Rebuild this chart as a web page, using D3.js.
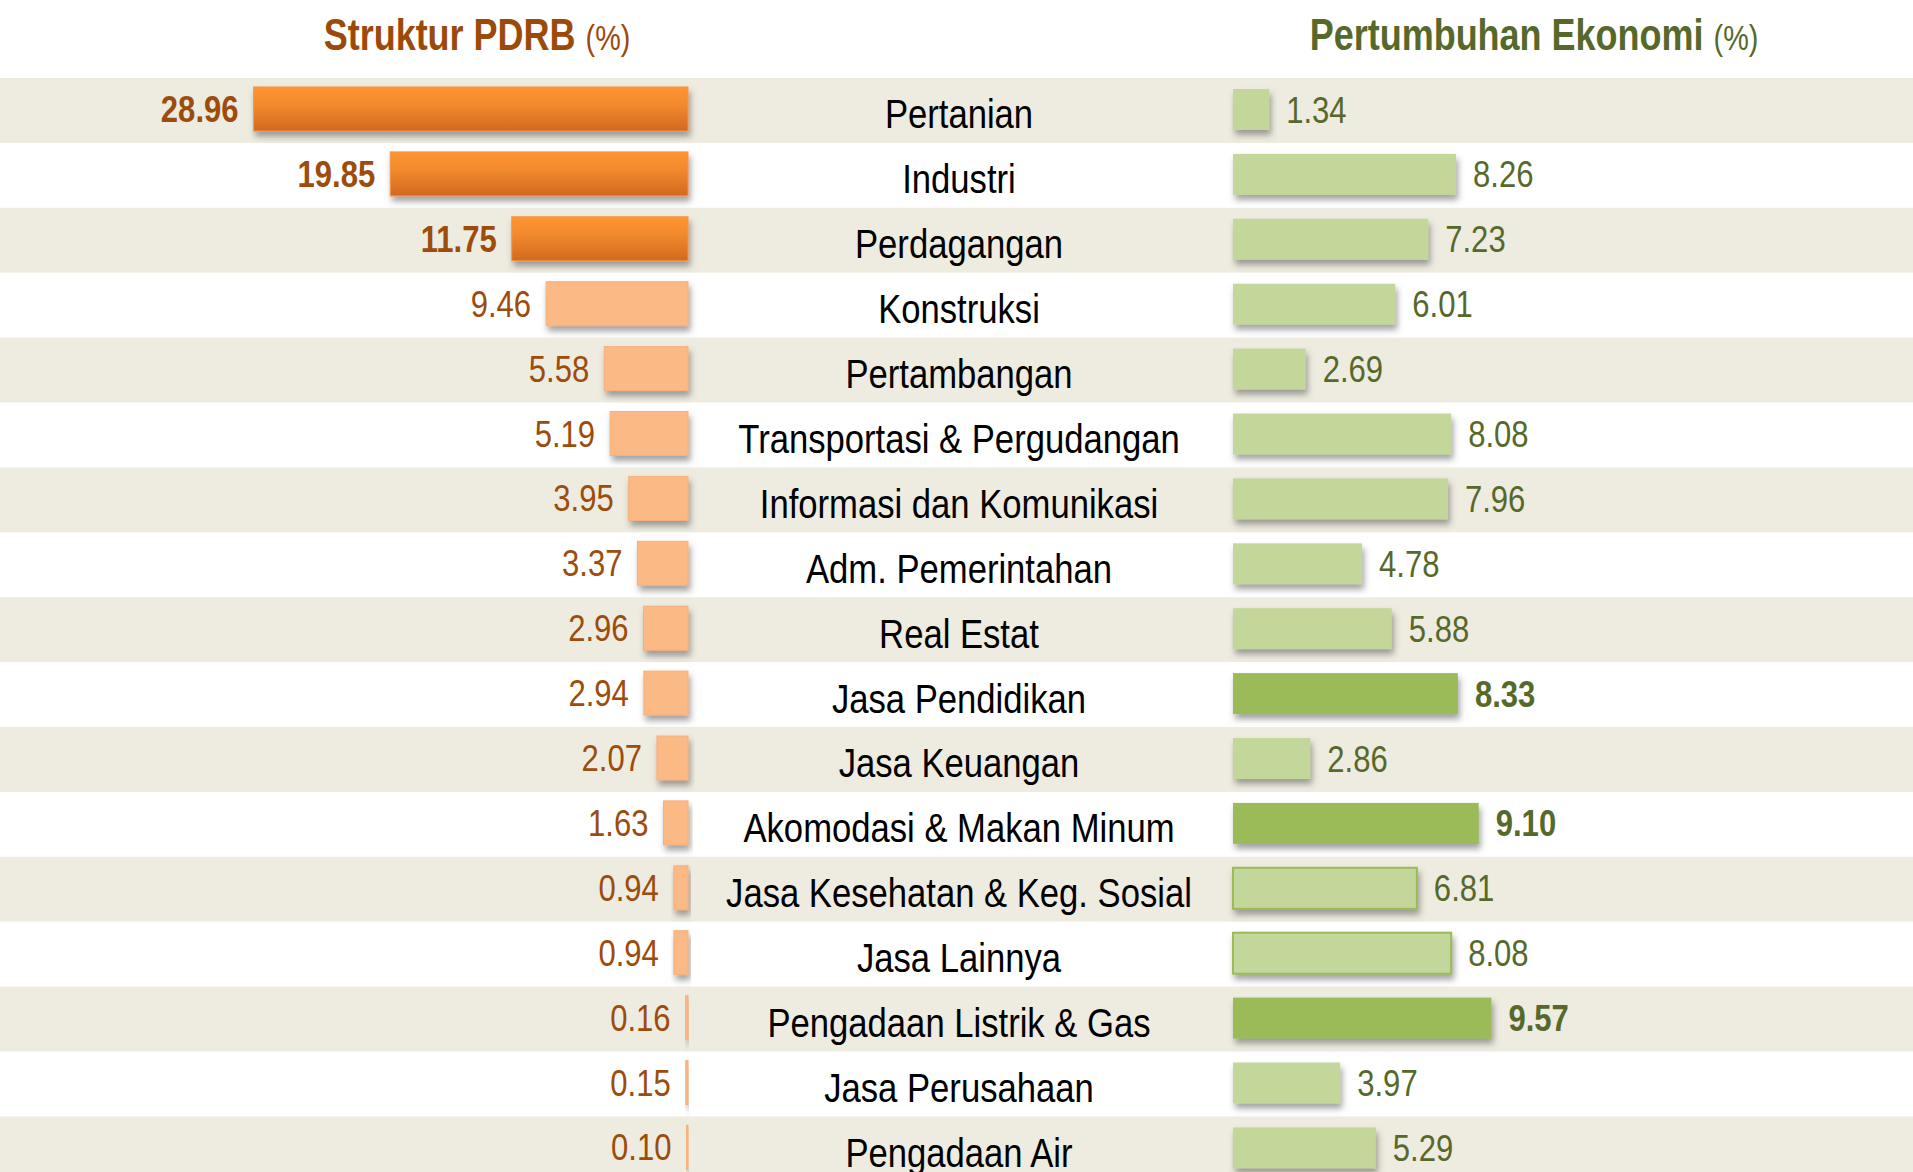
<!DOCTYPE html>
<html>
<head>
<meta charset="utf-8">
<script src="https://cdn.jsdelivr.net/npm/d3@7"></script>
<style>
  html, body { margin: 0; padding: 0; background: #fff; }
  svg { display: block; }
  text { font-family: "Liberation Sans", Arial, sans-serif; }
</style>
</head>
<body>
<svg id="chart" width="1913" height="1172"></svg>
<script>
const categories = ["Pertanian","Industri","Perdagangan","Konstruksi","Pertambangan","Transportasi & Pergudangan","Informasi dan Komunikasi","Adm. Pemerintahan","Real Estat","Jasa Pendidikan","Jasa Keuangan","Akomodasi & Makan Minum","Jasa Kesehatan & Keg. Sosial","Jasa Lainnya","Pengadaan Listrik & Gas","Jasa Perusahaan","Pengadaan Air"];
const struktur = [28.96,19.85,11.75,9.46,5.58,5.19,3.95,3.37,2.96,2.94,2.07,1.63,0.94,0.94,0.16,0.15,0.10];
const pertumbuhan = [1.34,8.26,7.23,6.01,2.69,8.08,7.96,4.78,5.88,8.33,2.86,9.10,6.81,8.08,9.57,3.97,5.29];
const titleLeft = "Struktur PDRB";
const titleRight = "Pertumbuhan Ekonomi";
const titleUnit = "(%)";
const outlinedGrowth = ["Jasa Kesehatan & Keg. Sosial","Jasa Lainnya"];

const W = 1913, H = 1172;
const NARROW = 0.82;
const svg = d3.select("#chart");
const defs = svg.append("defs");

const grad = defs.append("linearGradient").attr("id","orangeGrad").attr("x1","0").attr("y1","0").attr("x2","0").attr("y2","1");
grad.append("stop").attr("offset","0%").attr("stop-color","#FF9430");
grad.append("stop").attr("offset","40%").attr("stop-color","#F28A2E");
grad.append("stop").attr("offset","100%").attr("stop-color","#D0691F");

const sh = defs.append("filter").attr("id","shadow").attr("x","-20%").attr("y","-30%").attr("width","140%").attr("height","180%");
sh.append("feDropShadow").attr("dx",2).attr("dy",5).attr("stdDeviation",3).attr("flood-color","#555").attr("flood-opacity",0.55);

const rowTop = 78, rowH = 64.9;
const y = d3.scaleBand().domain(categories).range([rowTop, rowTop + rowH * categories.length]).paddingInner(0).paddingOuter(0);

// stripes
svg.selectAll("rect.stripe").data(categories.filter((d,i)=> i%2===0)).join("rect")
  .attr("class","stripe").attr("x",0).attr("width",W)
  .attr("y", d => y(d)).attr("height", y.bandwidth())
  .attr("fill","#EEEBE0");

const leftBase = 688;
const xL = d3.scaleLinear().domain([0,30]).range([0,450]);
const rightBase = 1233;
const xR = d3.scaleLinear().domain([0,10]).range([0,270]);

const topL = struktur.slice().sort((a,b)=>b-a)[2];
const topR = pertumbuhan.slice().sort((a,b)=>b-a)[2];

const lOff = 9, lH = 44, rOff = 11, rH = 41;

const rows = categories.map((c,i)=>({c, s: struktur[i], g: pertumbuhan[i]}));

// left bars
svg.selectAll("rect.lbar").data(rows).join("rect")
  .attr("class","lbar")
  .attr("x", d => leftBase - xL(d.s))
  .attr("width", d => xL(d.s))
  .attr("y", d => y(d.c) + lOff)
  .attr("height", lH)
  .attr("fill", d => d.s >= topL ? "url(#orangeGrad)" : "#FAB985")
  .attr("stroke", d => d.s >= topL ? "#F79646" : "#F8B07A")
  .attr("stroke-width", 1)
  .attr("filter","url(#shadow)");

svg.selectAll("text.lval").data(rows).join("text")
  .attr("class","lval")
  .attr("transform", d => `translate(${leftBase - xL(d.s) - 15},${y(d.c) + lOff + lH/2 + 13}) scale(${NARROW + 0.02},1)`)
  .attr("text-anchor","end")
  .attr("font-size", 37)
  .attr("font-weight", d => d.s >= topL ? "bold" : "normal")
  .attr("fill","#9C4C0C")
  .text(d => d.s.toFixed(2));

// category labels
svg.selectAll("text.cat").data(rows).join("text")
  .attr("class","cat")
  .attr("transform", d => `translate(959,${y(d.c) + y.bandwidth()/2 + 18}) scale(${NARROW + 0.025},1)`)
  .attr("text-anchor","middle")
  .attr("font-size", 41)
  .attr("fill","#000")
  .text(d => d.c);

// right bars
svg.selectAll("rect.rbar").data(rows).join("rect")
  .attr("class","rbar")
  .attr("x", rightBase)
  .attr("width", d => xR(d.g))
  .attr("y", d => y(d.c) + rOff)
  .attr("height", rH)
  .attr("fill", d => d.g >= topR ? "#9BBB59" : "#C4D79B")
  .attr("stroke", d => outlinedGrowth.includes(d.c) ? "#9BBB59" : "none")
  .attr("stroke-width", 2)
  .attr("filter","url(#shadow)");

svg.selectAll("text.rval").data(rows).join("text")
  .attr("class","rval")
  .attr("transform", d => `translate(${rightBase + xR(d.g) + 17},${y(d.c) + rOff + rH/2 + 13}) scale(${NARROW + 0.02},1)`)
  .attr("text-anchor","start")
  .attr("font-size", 37)
  .attr("font-weight", d => d.g >= topR ? "bold" : "normal")
  .attr("fill","#56692A")
  .text(d => d.g.toFixed(2));

// titles
function title(cx, label, color) {
  const t = svg.append("text")
    .attr("transform", `translate(${cx},50) scale(0.8,1)`)
    .attr("text-anchor","middle")
    .attr("font-size", 45).attr("font-weight","bold").attr("fill", color);
  t.append("tspan").text(label + " ");
  t.append("tspan").attr("font-size", 36).attr("font-weight","normal").text(titleUnit);
}
title(477, titleLeft, "#9C4A0A");
title(1534, titleRight, "#56692A");
</script>
</body>
</html>
